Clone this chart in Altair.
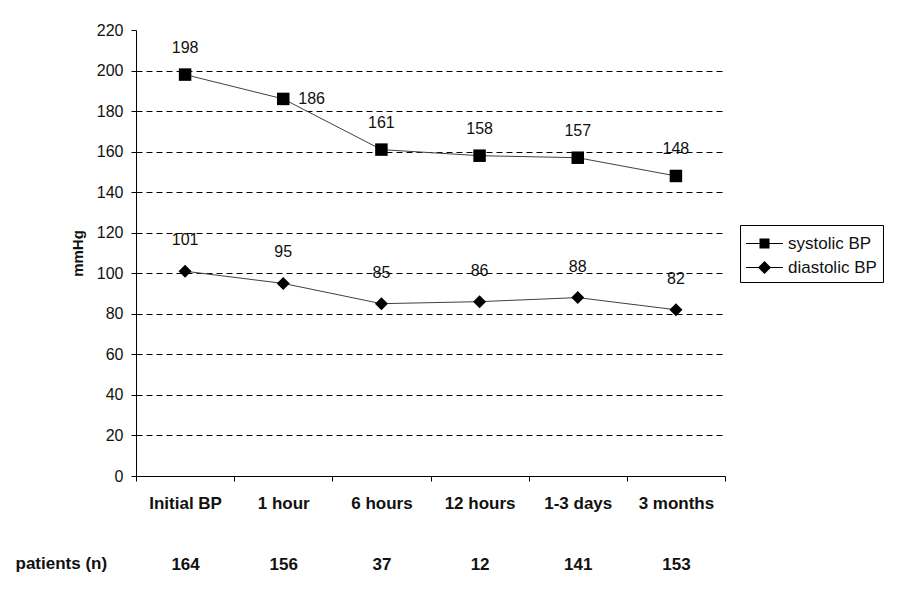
import json
import altair as alt
import pandas as pd

# ---- data ----
categories = ["Initial BP", "1 hour", "6 hours", "12 hours", "1-3 days", "3 months"]
systolic = [198, 186, 161, 158, 157, 148]
diastolic = [101, 95, 85, 86, 88, 82]
patients = [164, 156, 37, 12, 141, 153]
series_names = ["systolic BP", "diastolic BP"]
systolic_label_side = ["above", "right", "above", "above", "above", "above"]
y_ticks = list(range(0, 221, 20))

rows = []
for i, c in enumerate(categories):
    rows.append({"cat": c, "series": series_names[0], "value": systolic[i],
                 "side": systolic_label_side[i]})
    rows.append({"cat": c, "series": series_names[1], "value": diastolic[i],
                 "side": "above"})
df = pd.DataFrame(rows)

FONT = "Arial, Liberation Sans, sans-serif"
TXT = "#111111"

cats_js = json.dumps(categories)
counts_js = json.dumps([str(p) for p in patients])
label_expr = f"[datum.value, {counts_js}[indexof({cats_js}, datum.value)]]"

x_enc = alt.X(
    "cat:N",
    sort=categories,
    scale=alt.Scale(type="band", domain=categories, paddingInner=0, paddingOuter=0),
    axis=alt.Axis(
        title="patients (n)", titleX=-121, titleY=87, titleAlign="left",
        titleBaseline="middle", titleAnchor="start", titleFontSize=17,
        titleFontWeight="bold", titleColor=TXT, titleFont=FONT,
        labelExpr=label_expr, labelLineHeight=61, labelFontSize=17,
        labelFontWeight="bold", labelColor=TXT, labelFont=FONT, labelPadding=14,
        labelAngle=0, tickBand="extent", tickSize=5, tickColor="black",
        domainColor="black", grid=False,
    ),
)
y_enc = alt.Y(
    "value:Q",
    scale=alt.Scale(domain=[0, 220], nice=False, zero=True),
    axis=alt.Axis(
        values=y_ticks, title="mmHg", titleFontSize=15, titleFontWeight="bold",
        titleColor=TXT, titleFont=FONT, titlePadding=11,
        labelFontSize=16, labelColor=TXT, labelFont=FONT, labelPadding=8,
        tickSize=5, tickColor="black", domainColor="black",
        grid=True, gridDash=[6, 4], gridColor="black",
        gridOpacity={"condition": {"test": "datum.value >= 220 || datum.value <= 0", "value": 0}, "value": 1},
    ),
)

base = alt.Chart(df)

lines = base.mark_line(color="#404040", strokeWidth=1).encode(
    x=x_enc, y=y_enc, detail="series:N"
)

points = base.mark_point(filled=True, color="black", opacity=1).encode(
    x=x_enc, y=y_enc,
    shape=alt.Shape("series:N", scale=alt.Scale(domain=series_names, range=["square", "diamond"]), legend=None),
    size=alt.Size("series:N", scale=alt.Scale(domain=series_names, range=[156, 169]), legend=None),
)

# legend glyphs: thin bar (line) + marker, drawn as filled paths
bar = "M-1,-0.045H1.96V0.045H-1Z"
sq_path = bar + "M0.08,-0.4H0.88V0.4H0.08Z"
di_path = bar + "M-0.04,0L0.48,-0.52L1,0L0.48,0.52Z"

legend_layer = base.mark_point(
    filled=True, fill="black", opacity=0
).encode(
    x=x_enc, y=y_enc,
    shape=alt.Shape(
        "series:N",
        scale=alt.Scale(domain=series_names, range=[sq_path, di_path]),
        legend=alt.Legend(
            title=None, orient="none", legendX=604, legendY=195,
            strokeColor="black", fillColor="white", padding=6,
            symbolSize=625, symbolFillColor="black", symbolStrokeWidth=0,
            symbolOpacity=1, labelFontSize=17,
            labelFont=FONT, labelColor=TXT, labelOffset=17, rowPadding=3,
        ),
    ),
)

sys_above = base.transform_filter(
    (alt.datum.series == series_names[0]) & (alt.datum.side == "above")
).mark_text(dy=-27, fontSize=16, font=FONT, color=TXT, baseline="middle").encode(
    x=x_enc, y=y_enc, text="value:Q"
)
sys_right = base.transform_filter(
    (alt.datum.series == series_names[0]) & (alt.datum.side == "right")
).mark_text(dx=15, fontSize=16, font=FONT, color=TXT, align="left", baseline="middle").encode(
    x=x_enc, y=y_enc, text="value:Q"
)
dia_labels = base.transform_filter(
    alt.datum.series == series_names[1]
).mark_text(dy=-31, fontSize=16, font=FONT, color=TXT, baseline="middle").encode(
    x=x_enc, y=y_enc, text="value:Q"
)

chart = alt.layer(
    lines, points, legend_layer, sys_above, sys_right, dia_labels
).resolve_scale(
    shape="independent", size="independent"
).properties(
    width=589, height=446,
    padding={"left": 7, "top": 14, "right": 5, "bottom": 5},
    background="white",
).configure_view(stroke=None)

chart.save("out.html", embed_options={"renderer": "svg", "actions": False})
